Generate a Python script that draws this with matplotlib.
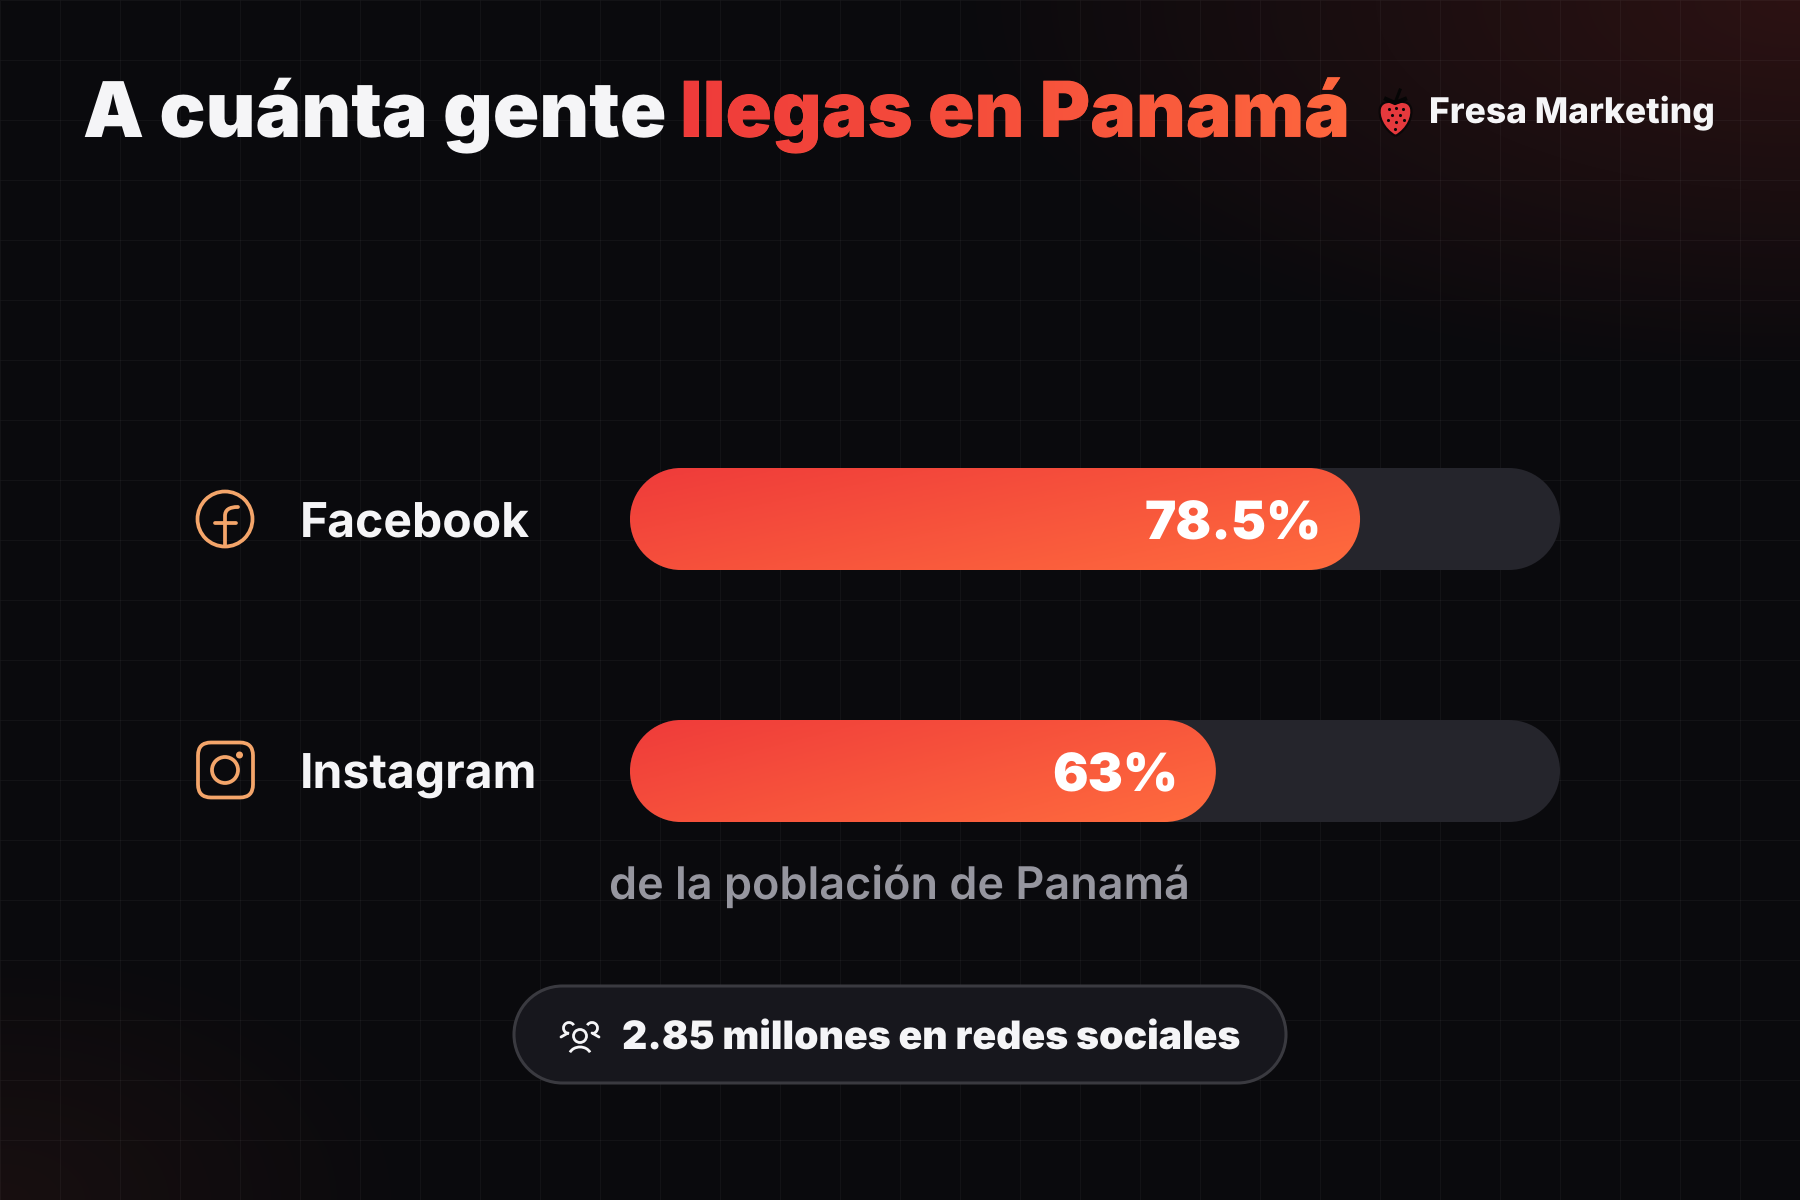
import numpy as np
import matplotlib
matplotlib.use('Agg')
import matplotlib.pyplot as plt
from matplotlib.patches import Circle, PathPatch, Arc, FancyBboxPatch
from matplotlib.path import Path
from matplotlib.textpath import TextPath
from matplotlib.font_manager import FontProperties
from matplotlib.transforms import Affine2D
from matplotlib.colors import LinearSegmentedColormap

plt.rcParams['font.family'] = ['Inter', 'DejaVu Sans']
plt.rcParams['text.hinting'] = 'none'

# datos
redes = ['Facebook', 'Instagram']
alcance = [78.5, 63]
alcance_txt = ['78.5%', '63%']
titulo_a = 'A cuánta gente'
titulo_b = 'llegas en Panamá'
marca = 'Fresa Marketing'
nota = 'de la población de Panamá'
total = '2.85 millones en redes sociales'

W, H = 1800, 1200
PT = 0.72  # 1 px en puntos a dpi 100
BLANCO = '#F5F5F7'
NARANJA = '#F4A56A'
rojos = LinearSegmentedColormap.from_list('rojos', ['#EF3B3A', '#FF6C3E'])


def capsula(x, y, ancho, alto, rx, ry):
    # rectangulo con extremos de cuarto de elipse, sirve con ejes de escala distinta
    k = 0.5523
    x1 = x + ancho
    y1 = y + alto
    v = [(x + rx, y), (x1 - rx, y),
         (x1 - rx + k * rx, y), (x1, y + ry - k * ry), (x1, y + ry),
         (x1, y1 - ry + k * ry), (x1 - rx + k * rx, y1), (x1 - rx, y1),
         (x + rx, y1),
         (x + rx - k * rx, y1), (x, y1 - ry + k * ry), (x, y + ry),
         (x, y + ry - k * ry), (x + rx - k * rx, y), (x + rx, y),
         (x + rx, y)]
    c = [Path.MOVETO, Path.LINETO] + [Path.CURVE4] * 6 + [Path.LINETO] + [Path.CURVE4] * 6 + [Path.CLOSEPOLY]
    return Path(v, c)


fig = plt.figure(figsize=(W / 100, H / 100), dpi=100)

# capa de fondo en pixeles
ax = fig.add_axes([0, 0, 1, 1])
ax.set_xlim(0, W)
ax.set_ylim(H, 0)
ax.axis('off')

yy, xx = np.mgrid[0:H:2, 0:W:2]
fondo = np.ones((yy.shape[0], yy.shape[1], 3)) * np.array([10, 10, 13])
brillo = np.clip(1 - np.hypot((xx - W) / 850, yy / 380), 0, 1)
fondo += brillo[..., None] * np.array([34, 8, 6])
brillo2 = np.clip(1 - np.hypot(xx / 420, (yy - H) / 260), 0, 1)
fondo += brillo2[..., None] * np.array([14, 5, 3])
ax.imshow(fondo / 255, extent=(0, W, H, 0), aspect='auto', zorder=0, interpolation='bilinear')

ax.vlines(np.arange(0, W + 1, 60), 0, H, color='#FFFFFF', alpha=0.04, lw=0.9, zorder=1)
ax.hlines(np.arange(0, H + 1, 60), 0, W, color='#FFFFFF', alpha=0.04, lw=0.9, zorder=1)

# titulo
TAM = 55.3
BASE = 136.5
ax.text(83, BASE, titulo_a, color=BLANCO, fontsize=TAM, fontweight='black', va='baseline', zorder=5)
ax.text(680, BASE, titulo_b, color='#F7503B', fontsize=TAM, fontweight='black', va='baseline', zorder=5)
fp = FontProperties(family='Inter', weight='black')
tp = TextPath((0, 0), titulo_b, size=TAM / PT, prop=fp)
tp_patch = PathPatch(tp, transform=Affine2D().scale(1, -1).translate(680, BASE) + ax.transData,
                     fc='none', ec='none', zorder=6)
ax.add_patch(tp_patch)
grad = np.linspace(0, 1, 256).reshape(1, -1)
im = ax.imshow(grad, extent=(680, 1430, 160, 70), aspect='auto', cmap=rojos, zorder=6)
im.set_clip_path(tp_patch)

# marca
fresa = Path([(1395.5, 136), (1383, 129), (1378, 116), (1380, 108), (1382, 101), (1390, 101), (1395.5, 103),
              (1401, 101), (1409, 101), (1411, 108), (1413, 116), (1408, 129), (1395.5, 136)],
             [Path.MOVETO] + [Path.CURVE4] * 12)
ax.add_patch(PathPatch(fresa, fc='#E5393D', ec='#0B0708', lw=1.6, zorder=5))
ax.plot([1386, 1395, 1405], [99, 103, 99], color='#050505', lw=3, zorder=6)
ax.plot([1395, 1400], [103, 90], color='#050505', lw=2.2, zorder=6)
sem_x = [1389, 1396, 1403, 1392, 1400, 1388, 1396, 1404, 1395]
sem_y = [109, 108, 109, 115, 115, 120, 122, 120, 129]
ax.scatter(sem_x, sem_y, s=5, color='#0B0708', zorder=6, linewidths=0)
ax.text(1429, 123, marca, color=BLANCO, fontsize=25.5, fontweight='extra bold', va='baseline', zorder=5)

# iconos
LW = 2.7
ax.add_patch(Circle((225, 519), 27.5, fc='none', ec=NARANJA, lw=LW, zorder=5))
f_path = Path([(225, 546), (225, 516), (225, 510), (229, 507), (238, 507)],
              [Path.MOVETO, Path.LINETO, Path.CURVE4, Path.CURVE4, Path.CURVE4])
ax.add_patch(PathPatch(f_path, fc='none', ec=NARANJA, lw=LW, capstyle='round', zorder=5))
ax.plot([215, 236], [523, 523], color=NARANJA, lw=LW, solid_capstyle='round', zorder=5)

ax.add_patch(FancyBboxPatch((198, 742.5), 55, 55, boxstyle='round,pad=0,rounding_size=13',
                            fc='none', ec=NARANJA, lw=LW, zorder=5))
ax.add_patch(Circle((225, 770), 13, fc='none', ec=NARANJA, lw=LW, zorder=5))
ax.add_patch(Circle((239.5, 755), 3.5, fc=NARANJA, ec='none', zorder=5))

# etiquetas
y_filas = [537, 789]
for red, yb in zip(redes, y_filas):
    ax.text(300, yb, red, color=BLANCO, fontsize=34.6, fontweight='bold', va='baseline', zorder=5)

# nota
ax.text(899, 899, nota, color='#96969F', fontsize=32.4, fontweight='semibold', ha='center', va='baseline', zorder=5)

# pastilla
ax.add_patch(PathPatch(capsula(514, 986, 772, 97, 48.5, 48.5), fc='#17171D', ec='#3A3A40', lw=2.2, zorder=4))
ax.text(622, 1050, total, color=BLANCO, fontsize=28.2, fontweight='black', va='baseline', zorder=5)
# icono personas
LP = 2.0
ax.add_patch(Circle((580, 1036), 6.5, fc='none', ec=BLANCO, lw=LP, zorder=5))
ax.add_patch(Arc((580, 1056), 22, 18, theta1=200, theta2=340, ec=BLANCO, lw=LP, zorder=5))
ax.add_patch(Arc((569, 1028), 11, 11, theta1=90, theta2=330, ec=BLANCO, lw=LP, zorder=5))
ax.add_patch(Arc((592, 1028), 11, 11, theta1=210, theta2=90, ec=BLANCO, lw=LP, zorder=5))
ax.plot([561, 568], [1037, 1033], color=BLANCO, lw=LP, solid_capstyle='round', zorder=5)
ax.plot([599, 592], [1037, 1033], color=BLANCO, lw=LP, solid_capstyle='round', zorder=5)

# barras: eje x en porcentaje, eje y en filas
SEP = 252
ax2 = fig.add_axes([630 / W, 0, 930 / W, 1])
ax2.patch.set_alpha(0)
ax2.axis('off')
px_x = 9.3
alto = 102 / SEP
rx = 51 / px_x
ry = 51 / SEP
y_lim = ((H - 519) / SEP, -519 / SEP)

for i, (v, txt) in enumerate(zip(alcance, alcance_txt)):
    y0 = i - alto / 2
    ax2.add_patch(PathPatch(capsula(0, y0, 100, alto, rx, ry), fc='#25252C', ec='none', zorder=2))
    barra = PathPatch(capsula(0, y0, v, alto, rx, ry), fc='none', ec='none', zorder=3)
    ax2.add_patch(barra)
    gx, gy = np.meshgrid(np.linspace(0, 1, 300), np.linspace(0, 1, 60))
    im = ax2.imshow(0.6 * gx + 0.4 * gy, extent=(0, v, i + alto / 2, y0), origin='upper',
                    aspect='auto', cmap=rojos, vmin=0, vmax=1, zorder=3)
    im.set_clip_path(barra)
    ax2.annotate(txt, (v, i), xytext=(-38 * PT, -19 * PT), textcoords='offset points',
                 color='#FFFFFF', fontsize=38, fontweight='black', ha='right', va='baseline', zorder=5)

ax2.set_xlim(0, 100)
ax2.set_ylim(*y_lim)

fig.savefig('out.png', dpi=100)
